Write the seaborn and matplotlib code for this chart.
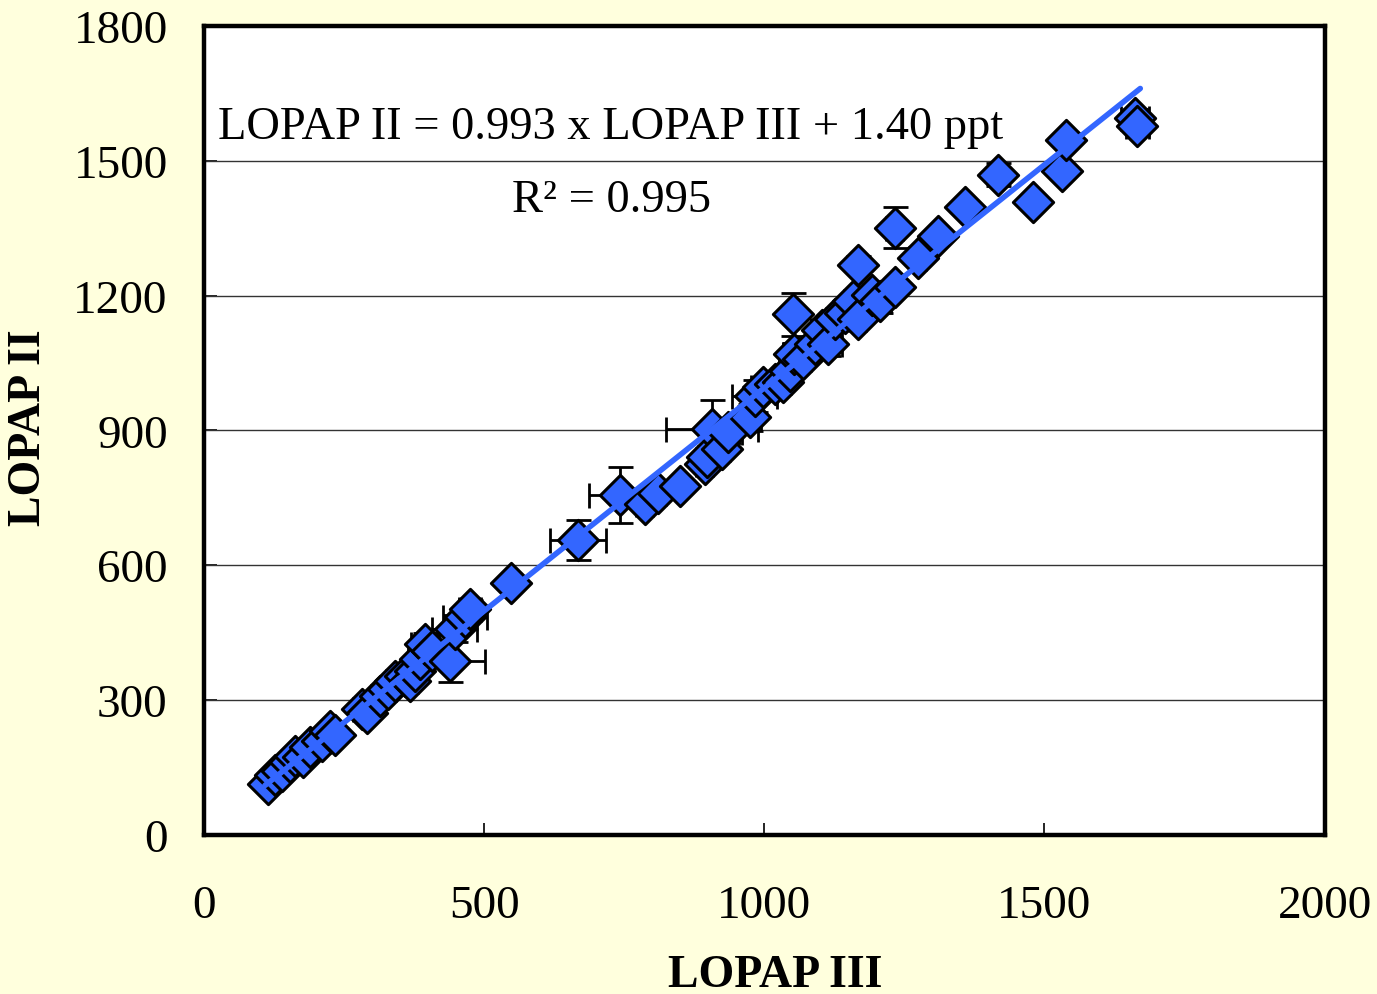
import numpy as np
import pandas as pd
import matplotlib
matplotlib.use("Agg")
import matplotlib.pyplot as plt
import seaborn as sns

# LOPAP III (x) vs LOPAP II (y), ppt
lopap3 = [114, 127, 139, 153, 162, 177, 189, 211, 225, 234, 282, 292, 314, 328, 341, 359,
          368, 376, 385, 394, 407, 439, 448, 466, 475, 549, 667, 742, 787, 810, 849,
          894, 897, 906, 924, 935, 974, 983, 997, 1019, 1033, 1046, 1054, 1051, 1069,
          1090, 1103, 1113, 1126, 1144, 1158, 1167, 1167, 1192, 1206, 1233, 1233, 1274,
          1310, 1358, 1417, 1479, 1531, 1538, 1661, 1666]
lopap2 = [113, 133, 142, 162, 176, 173, 196, 209, 231, 222, 280, 271, 309, 324, 342, 353,
          342, 364, 391, 424, 409, 387, 458, 484, 502, 560, 656, 756, 736, 760, 776,
          824, 840, 902, 858, 896, 929, 976, 996, 1002, 1007, 1031, 1069, 1158, 1058,
          1091, 1124, 1091, 1147, 1162, 1187, 1147, 1269, 1202, 1187, 1351, 1220, 1284,
          1333, 1398, 1469, 1409, 1476, 1547, 1596, 1578]
xerr = [8, 10, 10, 12, 10, 12, 10, 15, 12, 12, 15, 12, 15, 15, 15, 18,
        15, 20, 20, 25, 20, 62, 40, 40, 20, 10, 50, 55, 15, 15, 12,
        15, 15, 82, 15, 25, 20, 40, 20, 15, 15, 20, 20, 10, 15,
        15, 20, 25, 15, 20, 15, 15, 10, 15, 20, 15, 12, 15,
        10, 10, 10, 10, 12, 12, 25, 20]
yerr = [8, 10, 10, 12, 10, 12, 10, 15, 12, 12, 15, 12, 15, 15, 15, 18,
        15, 20, 20, 25, 20, 47, 30, 25, 20, 10, 44, 62, 15, 15, 12,
        15, 20, 66, 15, 25, 30, 35, 20, 15, 15, 20, 25, 47, 15,
        20, 20, 25, 15, 20, 15, 15, 20, 15, 25, 45, 15, 15,
        10, 10, 25, 10, 12, 15, 20, 20]

slope = 0.993
intercept = 1.40
r2 = 0.995

df = pd.DataFrame({"LOPAP III": lopap3, "LOPAP II": lopap2})

bg = "#FFFFDD"
blue = "#3366FF"

sns.set_style("white")
plt.rcParams["font.family"] = ["Liberation Serif", "DejaVu Serif"]
plt.rcParams["text.color"] = "black"
plt.rcParams["axes.labelcolor"] = "black"
plt.rcParams["xtick.color"] = "black"
plt.rcParams["ytick.color"] = "black"

fig = plt.figure(figsize=(13.77, 9.95), dpi=100, facecolor=bg)
ax = fig.add_axes([0.148, 0.160, 0.814, 0.813])
ax.set_facecolor("white")

ax.errorbar(df["LOPAP III"], df["LOPAP II"], xerr=xerr, yerr=yerr, fmt="none",
            ecolor="black", elinewidth=2, capsize=9, capthick=2, zorder=2)
sns.scatterplot(data=df, x="LOPAP III", y="LOPAP II", marker="D", s=420,
                color=blue, edgecolor="black", linewidth=2.2, zorder=3, ax=ax)

fit_x = np.array([min(lopap3) - 5, max(lopap3) + 5])
ax.plot(fit_x, slope * fit_x + intercept, color=blue, lw=4, zorder=4,
        solid_capstyle="round")

ax.text(25, 1576, f"LOPAP II = {slope:.3f} x LOPAP III + {intercept:.2f} ppt",
        fontsize=33.5, ha="left", va="center", zorder=5)
ax.text(728, 1413, f"R\u00b2 = {r2:.3f}", fontsize=33.5, ha="center", va="center", zorder=5)

ax.set_xlim(0, 2000)
ax.set_ylim(0, 1800)
ax.set_xticks(range(0, 2001, 500))
ax.set_yticks(range(0, 1801, 300))
for y in range(300, 1800, 300):
    ax.axhline(y, color="#333333", lw=1.0, zorder=1)

ax.tick_params(axis="both", direction="in", length=9, width=1.2,
               labelsize=34, left=True, bottom=True)
ax.tick_params(axis="x", pad=36)
ax.tick_params(axis="y", pad=26)

for sp in ax.spines.values():
    sp.set_visible(True)
    sp.set_color("black")
    sp.set_linewidth(3.2)

ax.set_xlabel("LOPAP III", fontsize=33, fontweight="bold")
ax.set_ylabel("LOPAP II", fontsize=33, fontweight="bold")
ax.xaxis.set_label_coords(0.51, -0.147)
ax.yaxis.set_label_coords(-0.137, 0.505)

fig.savefig("out.png", dpi=100, facecolor=bg)
